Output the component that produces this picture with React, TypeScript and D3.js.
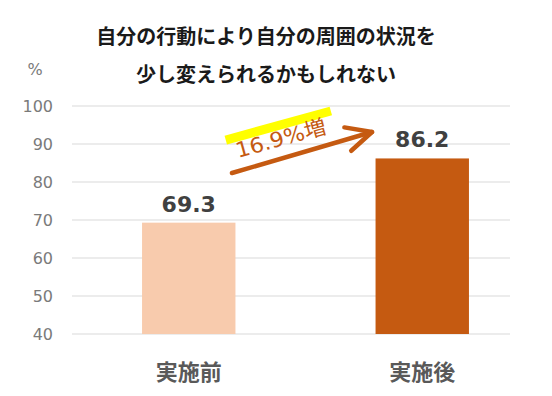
import * as d3 from "d3";

const categories = ["実施前", "実施後"];
const values = [69.3, 86.2];
const yTicks = [40, 50, 60, 70, 80, 90, 100];
const titleLines = ["自分の行動により自分の周囲の状況を", "少し変えられるかもしれない"];
const increaseLabel = "16.9%増";

const W = 552;
const H = 396;
const jp = "'Noto Sans CJK JP', 'Noto Sans', sans-serif";
const num = "'DejaVu Sans', 'Noto Sans CJK JP', sans-serif";

export default function App() {
  const x = d3
    .scaleBand<string>()
    .domain(categories)
    .range([72, 539])
    .paddingInner(0.6)
    .paddingOuter(0.3);
  const y = d3.scaleLinear().domain([40, 100]).range([334, 106]);
  const colors = ["#F8CBAD", "#C55A11"];

  // arrow from first bar toward second
  const ax1 = 232, ay1 = 173, ax2 = 372, ay2 = 132;
  const ang = Math.atan2(ay2 - ay1, ax2 - ax1);
  const head = 28;
  const h1 = [ax2 - head * Math.cos(ang - 0.45), ay2 - head * Math.sin(ang - 0.45)];
  const h2 = [ax2 - head * Math.cos(ang + 0.45), ay2 - head * Math.sin(ang + 0.45)];

  return (
    <svg width={W} height={H} style={{ position: "absolute", left: 0, top: 0, background: "#fff" }}>
      {titleLines.map((t, i) => (
        <text key={t} x={266} y={44 + i * 38} textAnchor="middle" fontFamily={jp}
          fontWeight="bold" fontSize={20} fill="#1a1a1a">{t}</text>
      ))}
      <text x={35} y={75} textAnchor="middle" fontFamily={num} fontSize={16} fill="#7a7a7a">%</text>
      {yTicks.map((t) => (
        <g key={t}>
          <line x1={72} x2={510} y1={y(t)} y2={y(t)} stroke="#d9d9d9" strokeWidth={1.2} />
          <text x={53} y={y(t) + 5.5} textAnchor="end" fontFamily={num} fontSize={16} fill="#7a7a7a">{t}</text>
        </g>
      ))}
      {categories.map((c, i) => (
        <g key={c}>
          <rect x={x(c)} y={y(values[i])} width={x.bandwidth()} height={y(40) - y(values[i])} fill={colors[i]} />
          <text x={x(c)! + x.bandwidth() / 2} y={y(values[i]) - 11} textAnchor="middle"
            fontFamily={num} fontWeight="bold" fontSize={22} fill="#404040">{values[i].toFixed(1)}</text>
          <text x={x(c)! + x.bandwidth() / 2} y={380} textAnchor="middle"
            fontFamily={jp} fontWeight="bold" fontSize={22} fill="#595959">{c}</text>
        </g>
      ))}
      <line x1={ax1} y1={ay1} x2={ax2} y2={ay2} stroke="#C55A11" strokeWidth={4.5} strokeLinecap="round" />
      <polyline points={`${h1[0]},${h1[1]} ${ax2},${ay2} ${h2[0]},${h2[1]}`} fill="none"
        stroke="#C55A11" strokeWidth={4.5} strokeLinecap="round" strokeLinejoin="round" />
      <g transform="translate(238,158) rotate(-15.5)">
        <rect x={-7} y={-25} width={109} height={9} fill="#FFFF00" />
        <text x={0} y={0} fontFamily={num} fontSize={21} fill="#C55A11" textLength={93}
          lengthAdjust="spacingAndGlyphs">{increaseLabel}</text>
      </g>
    </svg>
  );
}
